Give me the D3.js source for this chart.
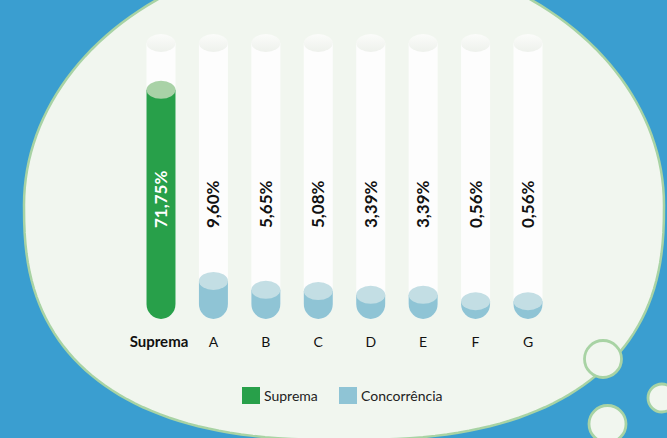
<!DOCTYPE html>
<meta charset="utf-8">
<style>
body { margin: 0; background: #3a9ed0; }
svg { display: block; font-family: Lato, "Open Sans", sans-serif; }
</style>
<svg width="667" height="438"></svg>
<script src="https://d3js.org/d3.v7.min.js"></script>
<script>

// chart data
var categories = ["Suprema", "A", "B", "C", "D", "E", "F", "G"];
var values = [71.75, 9.60, 5.65, 5.08, 3.39, 3.39, 0.56, 0.56];
var valueLabels = ["71,75%", "9,60%", "5,65%", "5,08%", "3,39%", "3,39%", "0,56%", "0,56%"];
var legendNames = ["Suprema", "Concorrência"];

var svg = d3.select("svg"),
    width = +svg.attr("width"),
    height = +svg.attr("height");

var bg = "#3a9ed0", bubbleFill = "#f1f6ef", bubbleLine = "#a8d3a4";

svg.append("rect").attr("width", width).attr("height", height).attr("fill", bg);

// big speech bubble: ellipse on top, a little squarer at the bottom
var bub = {cx: 344, cy: 205, a: 320, bTop: 253, nTop: 2, bBot: 235, nBot: 2.5};
var bubblePts = d3.range(0, 361, 2).map(function(deg) {
  var t = deg * Math.PI / 180, c = Math.cos(t), s = Math.sin(t);
  var bottom = s > 0;
  var n = bottom ? bub.nBot : bub.nTop, b = bottom ? bub.bBot : bub.bTop;
  return [bub.cx + bub.a * Math.sign(c) * Math.pow(Math.abs(c), 2 / n),
          bub.cy + b * Math.sign(s) * Math.pow(Math.abs(s), 2 / n)];
});
svg.append("path")
  .attr("d", d3.line().curve(d3.curveLinearClosed)(bubblePts))
  .attr("fill", bubbleFill)
  .attr("stroke", bubbleLine)
  .attr("stroke-width", 2.5);

// little thought bubbles
var dots = [{x: 603, y: 359, r: 18.5}, {x: 662, y: 398, r: 14}, {x: 607.5, y: 424, r: 18.5}];
svg.selectAll("circle.dot").data(dots).enter().append("circle")
  .attr("class", "dot")
  .attr("cx", function(d) { return d.x; })
  .attr("cy", function(d) { return d.y; })
  .attr("r", function(d) { return d.r; })
  .attr("fill", bubbleFill)
  .attr("stroke", bubbleLine)
  .attr("stroke-width", 2.8);

// scales
var x = d3.scalePoint().domain(categories).range([161, 528]);
var y = d3.scaleLinear().domain([0, 10, 72]).range([302.5, 280, 89]);

var rx = 14.5, capRy = 9, tubeTop = 43, bodyBottom = 304, bottomRy = 15;

function tubePath(cx, top) {
  return "M" + (cx - rx) + "," + top +
    "L" + (cx - rx) + "," + bodyBottom +
    "A" + rx + "," + bottomRy + " 0 0 0 " + (cx + rx) + "," + bodyBottom +
    "L" + (cx + rx) + "," + top + "Z";
}

var defs = svg.append("defs");
var capGrad = defs.append("linearGradient").attr("id", "capGrad")
  .attr("x1", 0).attr("y1", 0).attr("x2", 0).attr("y2", 1);
capGrad.append("stop").attr("offset", "0%").attr("stop-color", "#fbfcfa");
capGrad.append("stop").attr("offset", "100%").attr("stop-color", "#eef1ec");

var data = categories.map(function(c, i) {
  return {cat: c, value: values[i], label: valueLabels[i], main: i === 0};
});

var g = svg.append("g");

// empty tubes
g.selectAll("path.tube").data(data).enter().append("path")
  .attr("class", "tube")
  .attr("d", function(d) { return tubePath(x(d.cat), tubeTop); })
  .attr("fill", "#fdfdfd");
g.selectAll("ellipse.cap").data(data).enter().append("ellipse")
  .attr("class", "cap")
  .attr("cx", function(d) { return x(d.cat); })
  .attr("cy", tubeTop)
  .attr("rx", rx).attr("ry", capRy)
  .attr("fill", "url(#capGrad)");

// liquid
g.selectAll("path.liquid").data(data).enter().append("path")
  .attr("class", "liquid")
  .attr("d", function(d) { return tubePath(x(d.cat), y(d.value)); })
  .attr("fill", function(d) { return d.main ? "#28a04a" : "#8fc4d5"; });
g.selectAll("ellipse.level").data(data).enter().append("ellipse")
  .attr("class", "level")
  .attr("cx", function(d) { return x(d.cat); })
  .attr("cy", function(d) { return y(d.value); })
  .attr("rx", rx).attr("ry", capRy)
  .attr("fill", function(d) { return d.main ? "#a9d2a7" : "#c3dee4"; });

// value labels (rotated)
g.selectAll("text.val").data(data).enter().append("text")
  .attr("class", "val")
  .attr("transform", function(d) { return "translate(" + (x(d.cat) + 6) + ",228) rotate(-90)"; })
  .attr("font-size", 17)
  .attr("font-weight", "bold")
  .attr("fill", function(d) { return d.main ? "#ffffff" : "#111111"; })
  .text(function(d) { return d.label; });

// category labels
g.selectAll("text.cat").data(data).enter().append("text")
  .attr("class", "cat")
  .attr("x", function(d) { return x(d.cat) - (d.main ? 2 : 0); })
  .attr("y", 347)
  .attr("text-anchor", "middle")
  .attr("font-size", function(d) { return d.main ? 15 : 14; })
  .attr("font-weight", function(d) { return d.main ? "bold" : "normal"; })
  .attr("fill", "#111")
  .text(function(d) { return d.cat; });

// legend
var legendColors = ["#28a04a", "#8fc4d5"];
var legendX = [242, 339];
var legend = svg.selectAll("g.legend").data(legendNames).enter().append("g")
  .attr("class", "legend")
  .attr("transform", function(d, i) { return "translate(" + legendX[i] + ",387)"; });
legend.append("rect")
  .attr("width", 18).attr("height", 17)
  .attr("fill", function(d, i) { return legendColors[i]; });
legend.append("text")
  .attr("x", 22).attr("y", 14)
  .attr("font-size", 14)
  .attr("fill", "#222")
  .text(function(d) { return d; });

</script>
